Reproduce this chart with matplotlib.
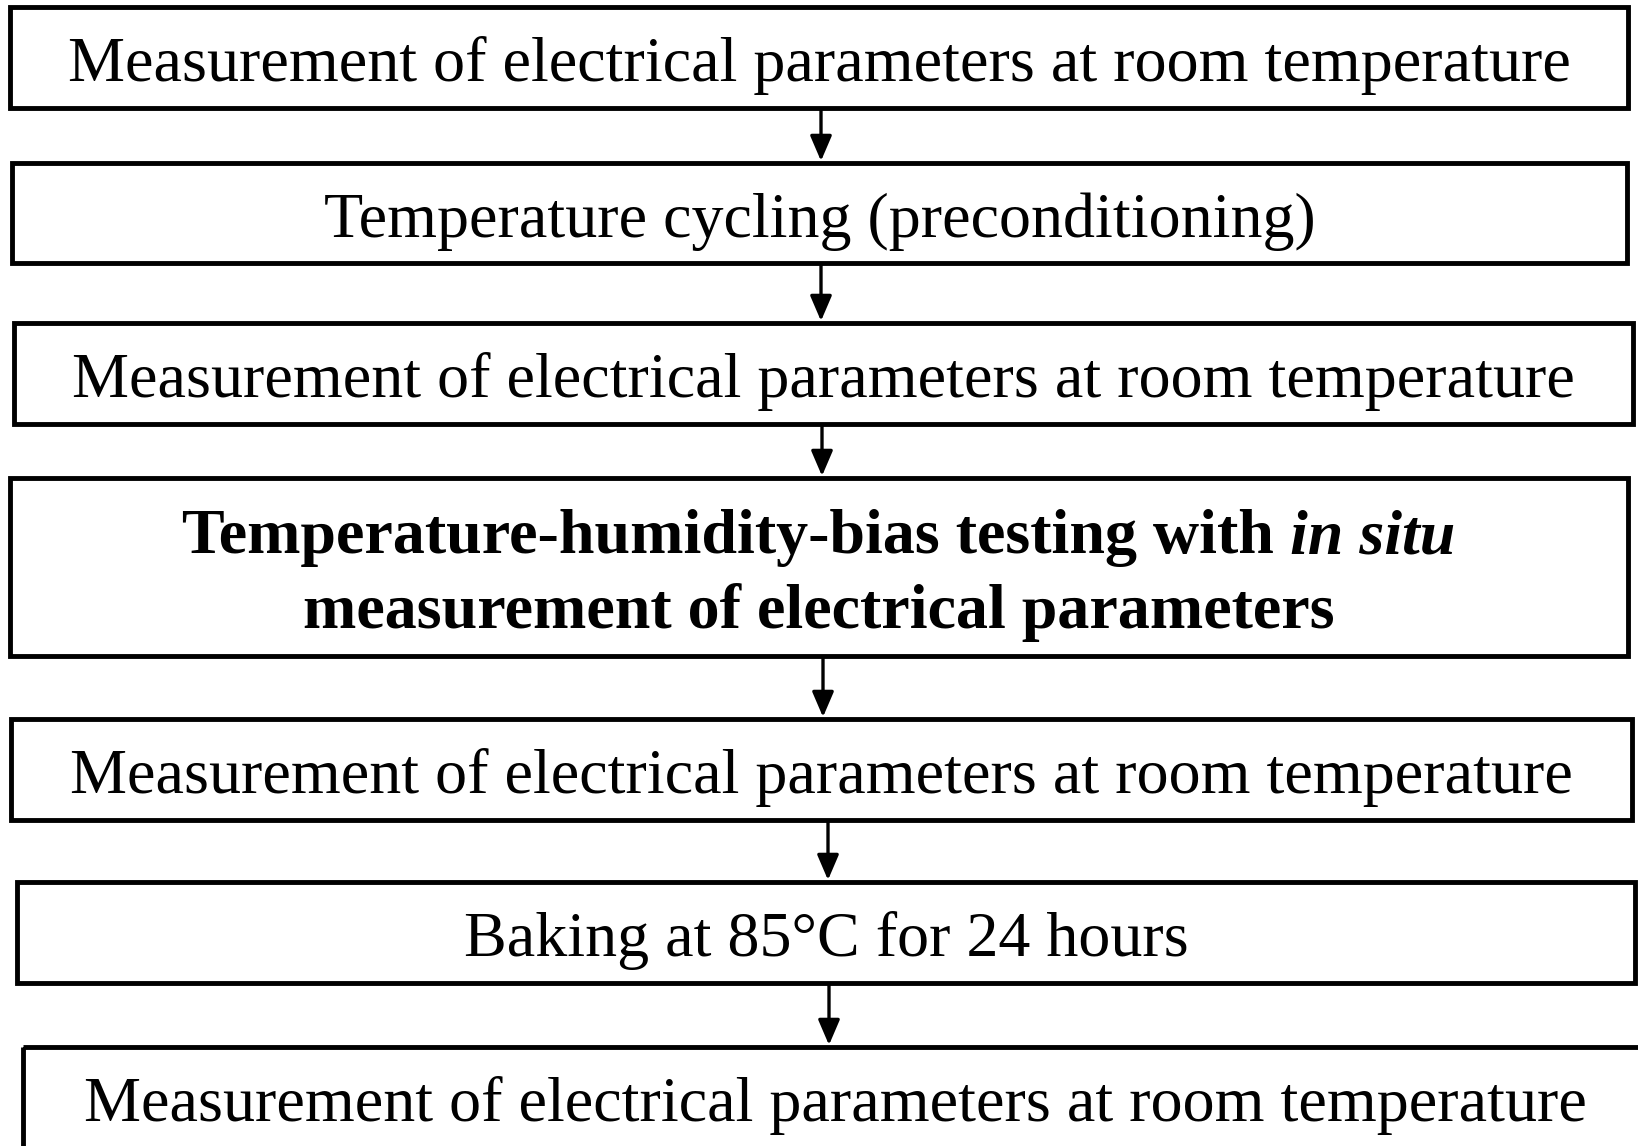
import matplotlib.pyplot as plt
from matplotlib.patches import Rectangle

# flow steps (top to bottom)
steps = [
    "Measurement of electrical parameters at room temperature",
    "Temperature cycling (preconditioning)",
    "Measurement of electrical parameters at room temperature",
    None,  # bold step, drawn separately
    "Measurement of electrical parameters at room temperature",
    "Baking at 85°C for 24 hours",
    "Measurement of electrical parameters at room temperature",
]
bold_line1 = "Temperature-humidity-bias testing with "
bold_italic = "in situ"
bold_line2 = "measurement of electrical parameters"

# box layout in pixels (x0, x1, y_top, y_bottom)
boxes = [
    (10, 1628, 7, 108),
    (12, 1627, 163, 263),
    (14, 1633, 323, 424),
    (10, 1628, 478, 656),
    (11, 1632, 719, 820),
    (17, 1635, 882, 983),
    (23, 1648, 1047, 1160),
]
arrow_x = [821, 821, 822, 823, 828, 829]

W, H = 1638, 1146
fig = plt.figure(figsize=(W / 100, H / 100), dpi=100)
ax = fig.add_axes([0, 0, 1, 1])
ax.set_xlim(0, W)
ax.set_ylim(H, 0)
ax.axis('off')

fs = 46.1
font = 'Liberation Serif'

for (x0, x1, yt, yb), label in zip(boxes, steps):
    ax.add_patch(Rectangle((x0, yt), x1 - x0, yb - yt, fill=False,
                           edgecolor='black', linewidth=3.5))
    if label is not None:
        ax.text((x0 + x1) / 2, yt + 74, label, ha='center', va='baseline',
                fontsize=fs, family=font)

# arrows between boxes
for i, x in enumerate(arrow_x):
    ax.annotate('', xy=(x, boxes[i + 1][2] - 2), xytext=(x, boxes[i][3] + 2),
                arrowprops=dict(arrowstyle='-|>,head_length=0.7,head_width=0.3',
                                color='black', lw=2.4, mutation_scale=22,
                                shrinkA=0, shrinkB=0))

# bold box with italic part
x0, x1, yt, yb = boxes[3]
cx = (x0 + x1) / 2
t1 = ax.text(0, 553, bold_line1, ha='left', va='baseline', fontsize=fs,
             family=font, weight='bold')
t2 = ax.text(0, 553, bold_italic, ha='left', va='baseline', fontsize=fs,
             family=font, weight='bold', style='italic')
ax.text(cx, 628, bold_line2, ha='center', va='baseline', fontsize=fs,
        family=font, weight='bold')

fig.canvas.draw()
r = fig.canvas.get_renderer()
w1 = t1.get_window_extent(r).width
w2 = t2.get_window_extent(r).width
start = cx - (w1 + w2) / 2
t1.set_x(start)
t2.set_x(start + w1)

fig.savefig('out.png', dpi=100)
